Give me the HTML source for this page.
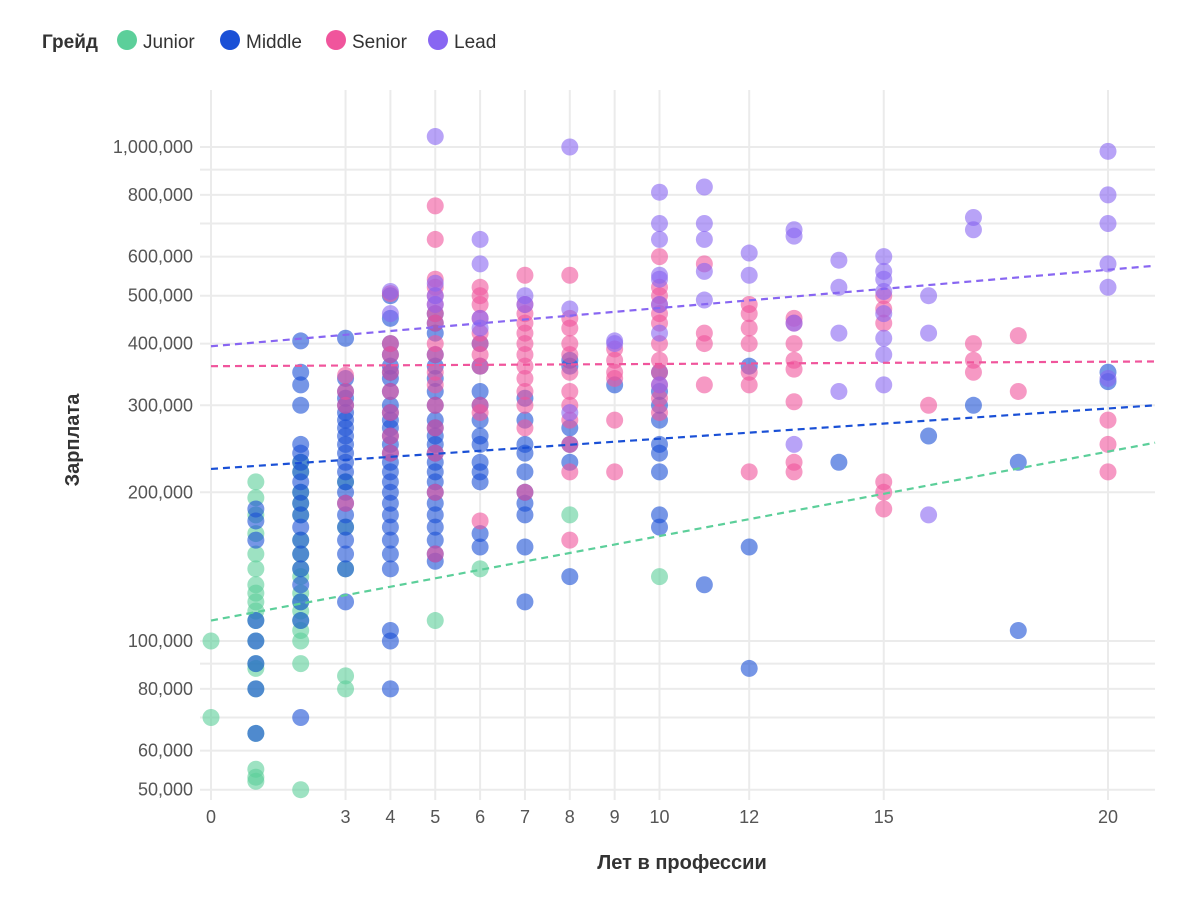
<!DOCTYPE html>
<html><head><meta charset="utf-8">
<style>
body{margin:0;background:#fff;font-family:"Liberation Sans",sans-serif;}
svg text{font-family:"Liberation Sans",sans-serif;}
</style></head>
<body>
<svg id="chart" width="1200" height="909">
<g id="grid"></g>
<g id="axes"></g>
<g id="points"></g>
<g id="trends"></g>
<g>
<text x="42" y="48" font-size="19" font-weight="bold" fill="#333">Грейд</text>
<circle cx="127" cy="40" r="10" fill="#5ccf9a"/>
<text x="143" y="48" font-size="19" fill="#333">Junior</text>
<circle cx="230" cy="40" r="10" fill="#1a50d6"/>
<text x="246" y="48" font-size="19" fill="#333">Middle</text>
<circle cx="336" cy="40" r="10" fill="#f0559c"/>
<text x="352" y="48" font-size="19" fill="#333">Senior</text>
<circle cx="438" cy="40" r="10" fill="#8866f2"/>
<text x="454" y="48" font-size="19" fill="#333">Lead</text>
</g>
<text transform="translate(79,440) rotate(-90)" text-anchor="middle" font-size="20" font-weight="bold" fill="#333">Зарплата</text>
<text x="682" y="869" text-anchor="middle" font-size="20" font-weight="bold" fill="#333">Лет в профессии</text>
</svg>
<script>
const xTicks=[0,3,4,5,6,7,8,9,10,12,15,20];
const yTickVals=[50000,60000,80000,100000,200000,300000,400000,500000,600000,800000,1000000];
const yTickLabels=["50,000","60,000","80,000","100,000","200,000","300,000","400,000","500,000","600,000","800,000","1,000,000"];
const yGridVals=[50000,60000,70000,80000,90000,100000,200000,300000,400000,500000,600000,700000,800000,900000,1000000];
const colors={junior:"#5ccf9a",middle:"#1a50d6",senior:"#f0559c",lead:"#8866f2"};
const junior=[[0,100],[0,70],
[1,210],[1,195],[1,180],[1,165],[1,150],[1,140],[1,130],[1,125],[1,120],[1,115],[1,110],[1,100],[1,90],[1,88],[1,80],[1,65],[1,55],[1,53],[1,52],
[2,230],[2,220],[2,200],[2,190],[2,180],[2,160],[2,150],[2,140],[2,135],[2,125],[2,120],[2,115],[2,110],[2,105],[2,100],[2,90],[2,50],
[3,210],[3,170],[3,140],[3,85],[3,80],[5,110],[6,140],[8,180],[10,135]];
const middle=[[1,185],[1,175],[1,160],[1,110],[1,100],[1,90],[1,80],[1,65],
[2,405],[2,350],[2,330],[2,300],[2,250],[2,240],[2,230],[2,220],[2,210],[2,200],[2,190],[2,180],[2,170],[2,160],[2,150],[2,140],[2,130],[2,120],[2,110],[2,70],
[3,410],[3,340],[3,320],[3,310],[3,300],[3,290],[3,280],[3,270],[3,260],[3,250],[3,240],[3,230],[3,220],[3,210],[3,200],[3,190],[3,180],[3,170],[3,160],[3,150],[3,140],[3,120],
[4,500],[4,450],[4,400],[4,380],[4,360],[4,350],[4,340],[4,320],[4,300],[4,290],[4,280],[4,270],[4,260],[4,250],[4,240],[4,230],[4,220],[4,210],[4,200],[4,190],[4,180],[4,170],[4,160],[4,150],[4,140],[4,105],[4,100],[4,80],
[5,460],[5,440],[5,420],[5,380],[5,360],[5,340],[5,320],[5,300],[5,280],[5,270],[5,260],[5,250],[5,240],[5,230],[5,220],[5,210],[5,200],[5,190],[5,180],[5,170],[5,160],[5,150],[5,145],
[6,400],[6,360],[6,320],[6,300],[6,280],[6,260],[6,250],[6,230],[6,220],[6,210],[6,165],[6,155],
[7,310],[7,280],[7,250],[7,240],[7,220],[7,200],[7,190],[7,180],[7,155],[7,120],
[8,370],[8,360],[8,270],[8,250],[8,230],[8,135],[9,330],
[10,350],[10,320],[10,300],[10,280],[10,250],[10,240],[10,220],[10,180],[10,170],
[11,130],[12,360],[12,155],[12,88],[14,230],[16,260],[17,300],[18,230],[18,105],[20,350],[20,335]];
const senior=[[3,345],[3,320],[3,300],[3,190],
[4,505],[4,400],[4,380],[4,350],[4,320],[4,290],[4,260],[4,240],
[5,760],[5,650],[5,540],[5,520],[5,500],[5,480],[5,460],[5,440],[5,400],[5,380],[5,350],[5,330],[5,300],[5,270],[5,240],[5,200],[5,150],
[6,520],[6,500],[6,480],[6,450],[6,420],[6,400],[6,380],[6,360],[6,300],[6,290],[6,175],
[7,550],[7,480],[7,460],[7,440],[7,420],[7,400],[7,380],[7,360],[7,340],[7,320],[7,300],[7,270],[7,200],
[8,550],[8,450],[8,430],[8,400],[8,380],[8,350],[8,320],[8,300],[8,280],[8,250],[8,220],[8,160],
[9,390],[9,370],[9,350],[9,340],[9,280],[9,220],
[10,600],[10,520],[10,500],[10,480],[10,460],[10,440],[10,400],[10,370],[10,350],[10,330],[10,310],[10,290],
[11,580],[11,420],[11,400],[11,330],
[12,480],[12,460],[12,430],[12,400],[12,350],[12,330],[12,220],
[13,450],[13,440],[13,400],[13,370],[13,355],[13,305],[13,230],[13,220],
[15,500],[15,470],[15,440],[15,210],[15,200],[15,185],[16,300],[17,400],[17,370],[17,350],[18,415],[18,320],[20,280],[20,250],[20,220]];
const lead=[[4,510],[4,460],[5,1050],[5,530],[5,500],[5,480],[6,650],[6,580],[6,450],[6,430],[7,500],[7,480],
[8,1000],[8,470],[8,290],[9,405],[9,400],
[10,810],[10,700],[10,650],[10,550],[10,540],[10,480],[10,420],[10,330],
[11,830],[11,700],[11,650],[11,560],[11,490],[12,610],[12,550],
[13,680],[13,660],[13,440],[13,250],[14,590],[14,520],[14,420],[14,320],
[15,600],[15,560],[15,540],[15,510],[15,460],[15,410],[15,380],[15,330],
[16,500],[16,420],[16,180],[17,720],[17,680],[20,980],[20,800],[20,700],[20,580],[20,520],[20,340]];
const trendStart=[110,223,360,395];
const trendEnd=[252,300,368,575];
const trendXMax=21.05;

const NS="http://www.w3.org/2000/svg";
const X=v=>211+v*44.85;
const Y=v=>147+(6-Math.log10(v))*494;
function mk(tag,attrs,parent){const e=document.createElementNS(NS,tag);for(const k in attrs)e.setAttribute(k,attrs[k]);parent.appendChild(e);return e;}
const grid=document.getElementById('grid'),axes=document.getElementById('axes'),pts=document.getElementById('points'),tr=document.getElementById('trends');
yGridVals.forEach(v=>{const l=mk('line',{x1:200,x2:1155,y1:Y(v),y2:Y(v),stroke:'#ebebeb','stroke-width':2},grid);

});
xTicks.forEach(v=>{const l=mk('line',{x1:X(v),x2:X(v),y1:90,y2:800,stroke:'#ebebeb','stroke-width':2},grid);


const t=mk('text',{x:X(v),y:823,'text-anchor':'middle','font-size':18,fill:'#555'},axes);t.textContent=v;

});
yTickVals.forEach((v,i)=>{const t=mk('text',{x:193,y:Y(v)+6,'text-anchor':'end','font-size':18,fill:'#555'},axes);t.textContent=yTickLabels[i];

});
[['junior',junior],['middle',middle],['senior',senior],['lead',lead]].forEach(([g,arr])=>{
arr.forEach(d=>{const c=mk('circle',{cx:X(d[0]),cy:Y(d[1]*1000),r:8.5,fill:colors[g],'fill-opacity':0.6},pts);

});});
['junior','middle','senior','lead'].forEach((g,i)=>{const l=mk('line',{x1:X(0),x2:X(trendXMax),y1:Y(trendStart[i]*1000),y2:Y(trendEnd[i]*1000),stroke:colors[g],'stroke-width':2.2,'stroke-dasharray':'7,5'},tr);

});
</script>
</body></html>
